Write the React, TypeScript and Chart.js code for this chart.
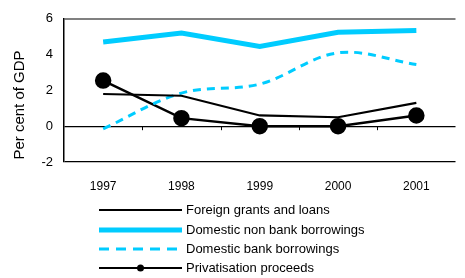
import React, { useEffect, useRef } from "react";
import { Chart, registerables } from "chart.js";

Chart.register(...registerables);

const years = ["1997", "1998", "1999", "2000", "2001"];
const foreignGrants = [1.8, 1.7, 0.6, 0.5, 1.3];
const domesticNonBank = [4.7, 5.2, 4.45, 5.25, 5.35];
const domesticBank = [-0.15, 1.85, 2.35, 4.1, 3.45];
const privatisation = [2.55, 0.45, 0, 0, 0.6];
const yTicks = [-2, 0, 2, 4, 6];

const seriesNames = [
  "Foreign grants and loans",
  "Domestic non bank borrowings",
  "Domestic bank borrowings",
  "Privatisation proceeds",
];

const FONT = "'Liberation Sans', Arial, sans-serif";
const CYAN = "#00CCFF";

const overlay = {
  id: "overlay",
  afterDraw(chart: any) {
    const { ctx, scales } = chart;
    const y = scales.y;
    const x = scales.x;
    ctx.save();
    const y0 = y.getPixelForValue(0);
    ctx.strokeStyle = "#000";
    ctx.lineWidth = 1;
    for (let i = 1; i < years.length; i++) {
      const px = Math.round((x.getPixelForValue(i - 1) + x.getPixelForValue(i)) / 2) + 0.5;
      ctx.beginPath();
      ctx.moveTo(px, y0);
      ctx.lineTo(px, y0 + 4);
      ctx.stroke();
    }
    ctx.fillStyle = "#000";
    ctx.font = `15px ${FONT}`;
    ctx.textAlign = "center";
    ctx.textBaseline = "middle";
    ctx.translate(20, 105);
    ctx.rotate(-Math.PI / 2);
    ctx.fillText("Per cent of GDP", 0, 0);
    ctx.setTransform(1, 0, 0, 1, 0, 0);
    const rows = [210, 230, 249, 268];
    const x1 = 99;
    const x2 = 182;
    ctx.font = `13px ${FONT}`;
    ctx.textAlign = "left";
    rows.forEach((ry, i) => {
      ctx.beginPath();
      ctx.setLineDash([]);
      if (i === 0) {
        ctx.strokeStyle = "#000";
        ctx.lineWidth = 2;
      } else if (i === 1) {
        ctx.strokeStyle = CYAN;
        ctx.lineWidth = 5;
      } else if (i === 2) {
        ctx.strokeStyle = CYAN;
        ctx.lineWidth = 3;
        ctx.setLineDash([10, 7]);
      } else {
        ctx.strokeStyle = "#000";
        ctx.lineWidth = 2;
      }
      ctx.moveTo(x1, ry);
      ctx.lineTo(x2, ry);
      ctx.stroke();
      ctx.setLineDash([]);
      if (i === 3) {
        ctx.fillStyle = "#000";
        ctx.beginPath();
        ctx.arc((x1 + x2) / 2, ry, 3.5, 0, Math.PI * 2);
        ctx.fill();
      }
      ctx.fillStyle = "#000";
      ctx.fillText(seriesNames[i], 186, ry);
    });
    ctx.restore();
  },
};

export default function App() {
  const ref = useRef<HTMLCanvasElement>(null);
  useEffect(() => {
    document.body.style.margin = "0";
    const chart = new Chart(ref.current!, {
      type: "line",
      data: {
        labels: years,
        datasets: [
          {
            label: seriesNames[0],
            data: foreignGrants,
            borderColor: "#000",
            borderWidth: 2.2,
            pointRadius: 0,
            tension: 0,
          },
          {
            label: seriesNames[1],
            data: domesticNonBank,
            borderColor: CYAN,
            borderWidth: 5,
            pointRadius: 0,
            tension: 0,
          },
          {
            label: seriesNames[2],
            data: domesticBank,
            borderColor: CYAN,
            borderWidth: 3,
            borderDash: [8, 6],
            pointRadius: 0,
            tension: 0.35,
          },
          {
            label: seriesNames[3],
            data: privatisation,
            borderColor: "#000",
            borderWidth: 2.5,
            pointRadius: 7,
            pointBackgroundColor: "#000",
            pointBorderColor: "#000",
            tension: 0,
          },
        ],
      },
      options: {
        responsive: false,
        animation: false,
        layout: { padding: { top: 15, right: 0, left: 0, bottom: 0 } },
        plugins: { legend: { display: false }, tooltip: { enabled: false } },
        scales: {
          x: {
            offset: true,
            grid: { display: false, drawTicks: false, offset: true },
            border: { display: false },
            ticks: { color: "#000", font: { family: FONT, size: 12 }, padding: 17, maxRotation: 0 },
            afterFit: (s: any) => {
              s.height = 116;
            },
          },
          y: {
            min: -2,
            max: 6,
            afterBuildTicks: (s: any) => {
              s.ticks = yTicks.map((v) => ({ value: v }));
            },
            grid: {
              drawTicks: false,
              color: (c: any) =>
                c.tick && c.tick.value === 6
                  ? "#808080"
                  : c.tick && (c.tick.value === 0 || c.tick.value === -2)
                  ? "#000"
                  : "rgba(0,0,0,0)",
              lineWidth: (c: any) => (c.tick && c.tick.value === 6 ? 2 : 1.3),
            },
            border: { display: true, color: "#000", width: 1.5 },
            ticks: { color: "#000", font: { family: FONT, size: 13 }, padding: 11 },
            afterFit: (s: any) => {
              s.width = 64;
            },
          },
        },
      },
      plugins: [overlay],
    });
    return () => chart.destroy();
  }, []);
  return (
    <div style={{ position: "absolute", left: 0, top: 0, width: 465, height: 278 }}>
      <canvas ref={ref} width={465} height={278} />
    </div>
  );
}
